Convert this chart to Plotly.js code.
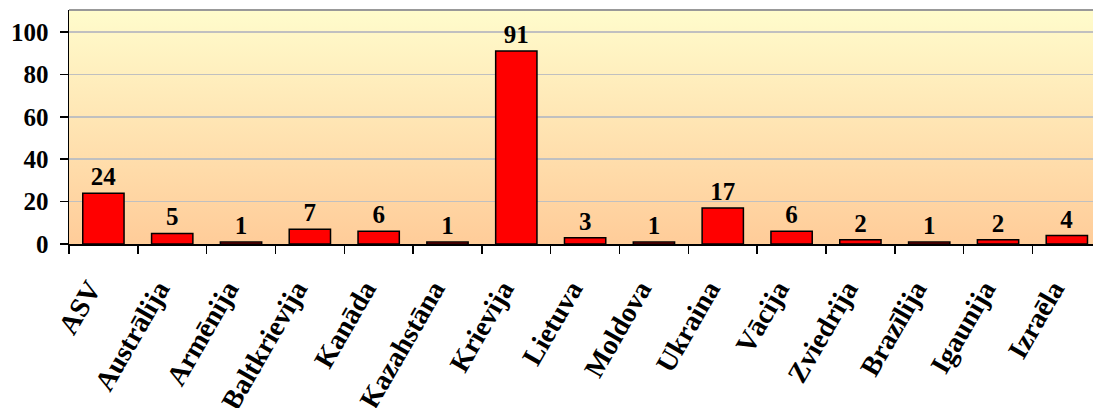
<!DOCTYPE html>
<html>
<head>
<meta charset="utf-8">
<script src="https://cdn.plot.ly/plotly-3.0.1.min.js"></script>
<style>html,body{margin:0;padding:0;background:#fff;overflow:hidden}#chart{width:1093px;height:408px}</style>
</head>
<body>
<div id="chart"></div>
<script>
const categories = ["ASV","Austrālija","Armēnija","Baltkrievija","Kanāda","Kazahstāna","Krievija","Lietuva","Moldova","Ukraina","Vācija","Zviedrija","Brazīlija","Igaunija","Izraēla"];
const values = [24,5,1,7,6,1,91,3,1,17,6,2,1,2,4];
const yTicks = [0,20,40,60,80,100];

const grad = 'data:image/svg+xml;utf8,' + encodeURIComponent(
  '<svg xmlns="http://www.w3.org/2000/svg" width="100" height="100" preserveAspectRatio="none">' +
  '<defs><linearGradient id="g" x1="0" y1="0" x2="0" y2="1">' +
  '<stop offset="0" stop-color="#FFFCCC"/><stop offset="1" stop-color="#FFCC99"/>' +
  '</linearGradient></defs><rect width="100" height="100" fill="url(#g)"/></svg>');

const fam = '"Liberation Serif", "Times New Roman", serif';
const font = {family: fam, size: 25, color: '#000', weight: 'bold'};
const xfont = {family: fam, size: 28, color: '#000', weight: 'bold'};

const xMin = -0.5, xMax = 14.38, labelShift = 0.2;
const idx = categories.map((c, i) => i);

const trace = {
  type: 'bar',
  x: categories,
  y: values,
  text: values.map(String),
  textposition: 'outside',
  cliponaxis: false,
  textfont: font,
  marker: {color: '#FF0000', line: {color: '#000', width: 1.5}},
  width: 0.6,
  hoverinfo: 'none'
};

// invisible helper trace so the label axis (x2) is drawn
const labelTrace = {
  type: 'scatter', mode: 'none',
  x: idx, y: values,
  xaxis: 'x2', yaxis: 'y',
  hoverinfo: 'skip', showlegend: false
};

const layout = {
  width: 1093, height: 408,
  margin: {l: 69, r: 0, t: 10, b: 164},
  paper_bgcolor: '#fff',
  plot_bgcolor: 'rgba(0,0,0,0)',
  showlegend: false,
  font: font,
  xaxis: {
    type: 'category',
    range: [xMin, xMax],
    ticks: 'outside', ticklen: 8, tickcolor: '#000', tickwidth: 1.5,
    tickson: 'boundaries',
    showline: true, linecolor: '#000', linewidth: 1.5,
    showgrid: false,
    showticklabels: false,
    automargin: false,
    fixedrange: true
  },
  xaxis2: {
    type: 'linear',
    overlaying: 'x',
    anchor: 'y',
    side: 'bottom',
    range: [xMin + labelShift, xMax + labelShift],
    tickmode: 'array',
    tickvals: idx,
    ticktext: categories,
    tickangle: -60,
    ticks: '',
    showline: false, showgrid: false, zeroline: false,
    ticklabelstandoff: 22,
    tickfont: xfont,
    automargin: false,
    fixedrange: true
  },
  yaxis: {
    range: [0, 110.4],
    tickvals: yTicks,
    ticktext: yTicks.map(String),
    ticks: 'outside', ticklen: 8, tickcolor: '#000', tickwidth: 1.5,
    showline: true, linecolor: '#000', linewidth: 1.5,
    showgrid: true, gridcolor: '#C0C0C0', gridwidth: 1.5,
    zeroline: false,
    ticklabelstandoff: 6,
    tickfont: font,
    automargin: false,
    fixedrange: true
  },
  images: [{source: grad, xref: 'paper', yref: 'paper', x: 0, y: 1, sizex: 1, sizey: 1, sizing: 'stretch', layer: 'below', xanchor: 'left', yanchor: 'top'}],
  shapes: [{type: 'line', xref: 'paper', yref: 'paper', x0: 0, x1: 1, y0: 1, y1: 1, line: {color: '#999', width: 2}}]
};

Plotly.newPlot('chart', [trace, labelTrace], layout, {displayModeBar: false, staticPlot: true});
</script>
</body>
</html>
